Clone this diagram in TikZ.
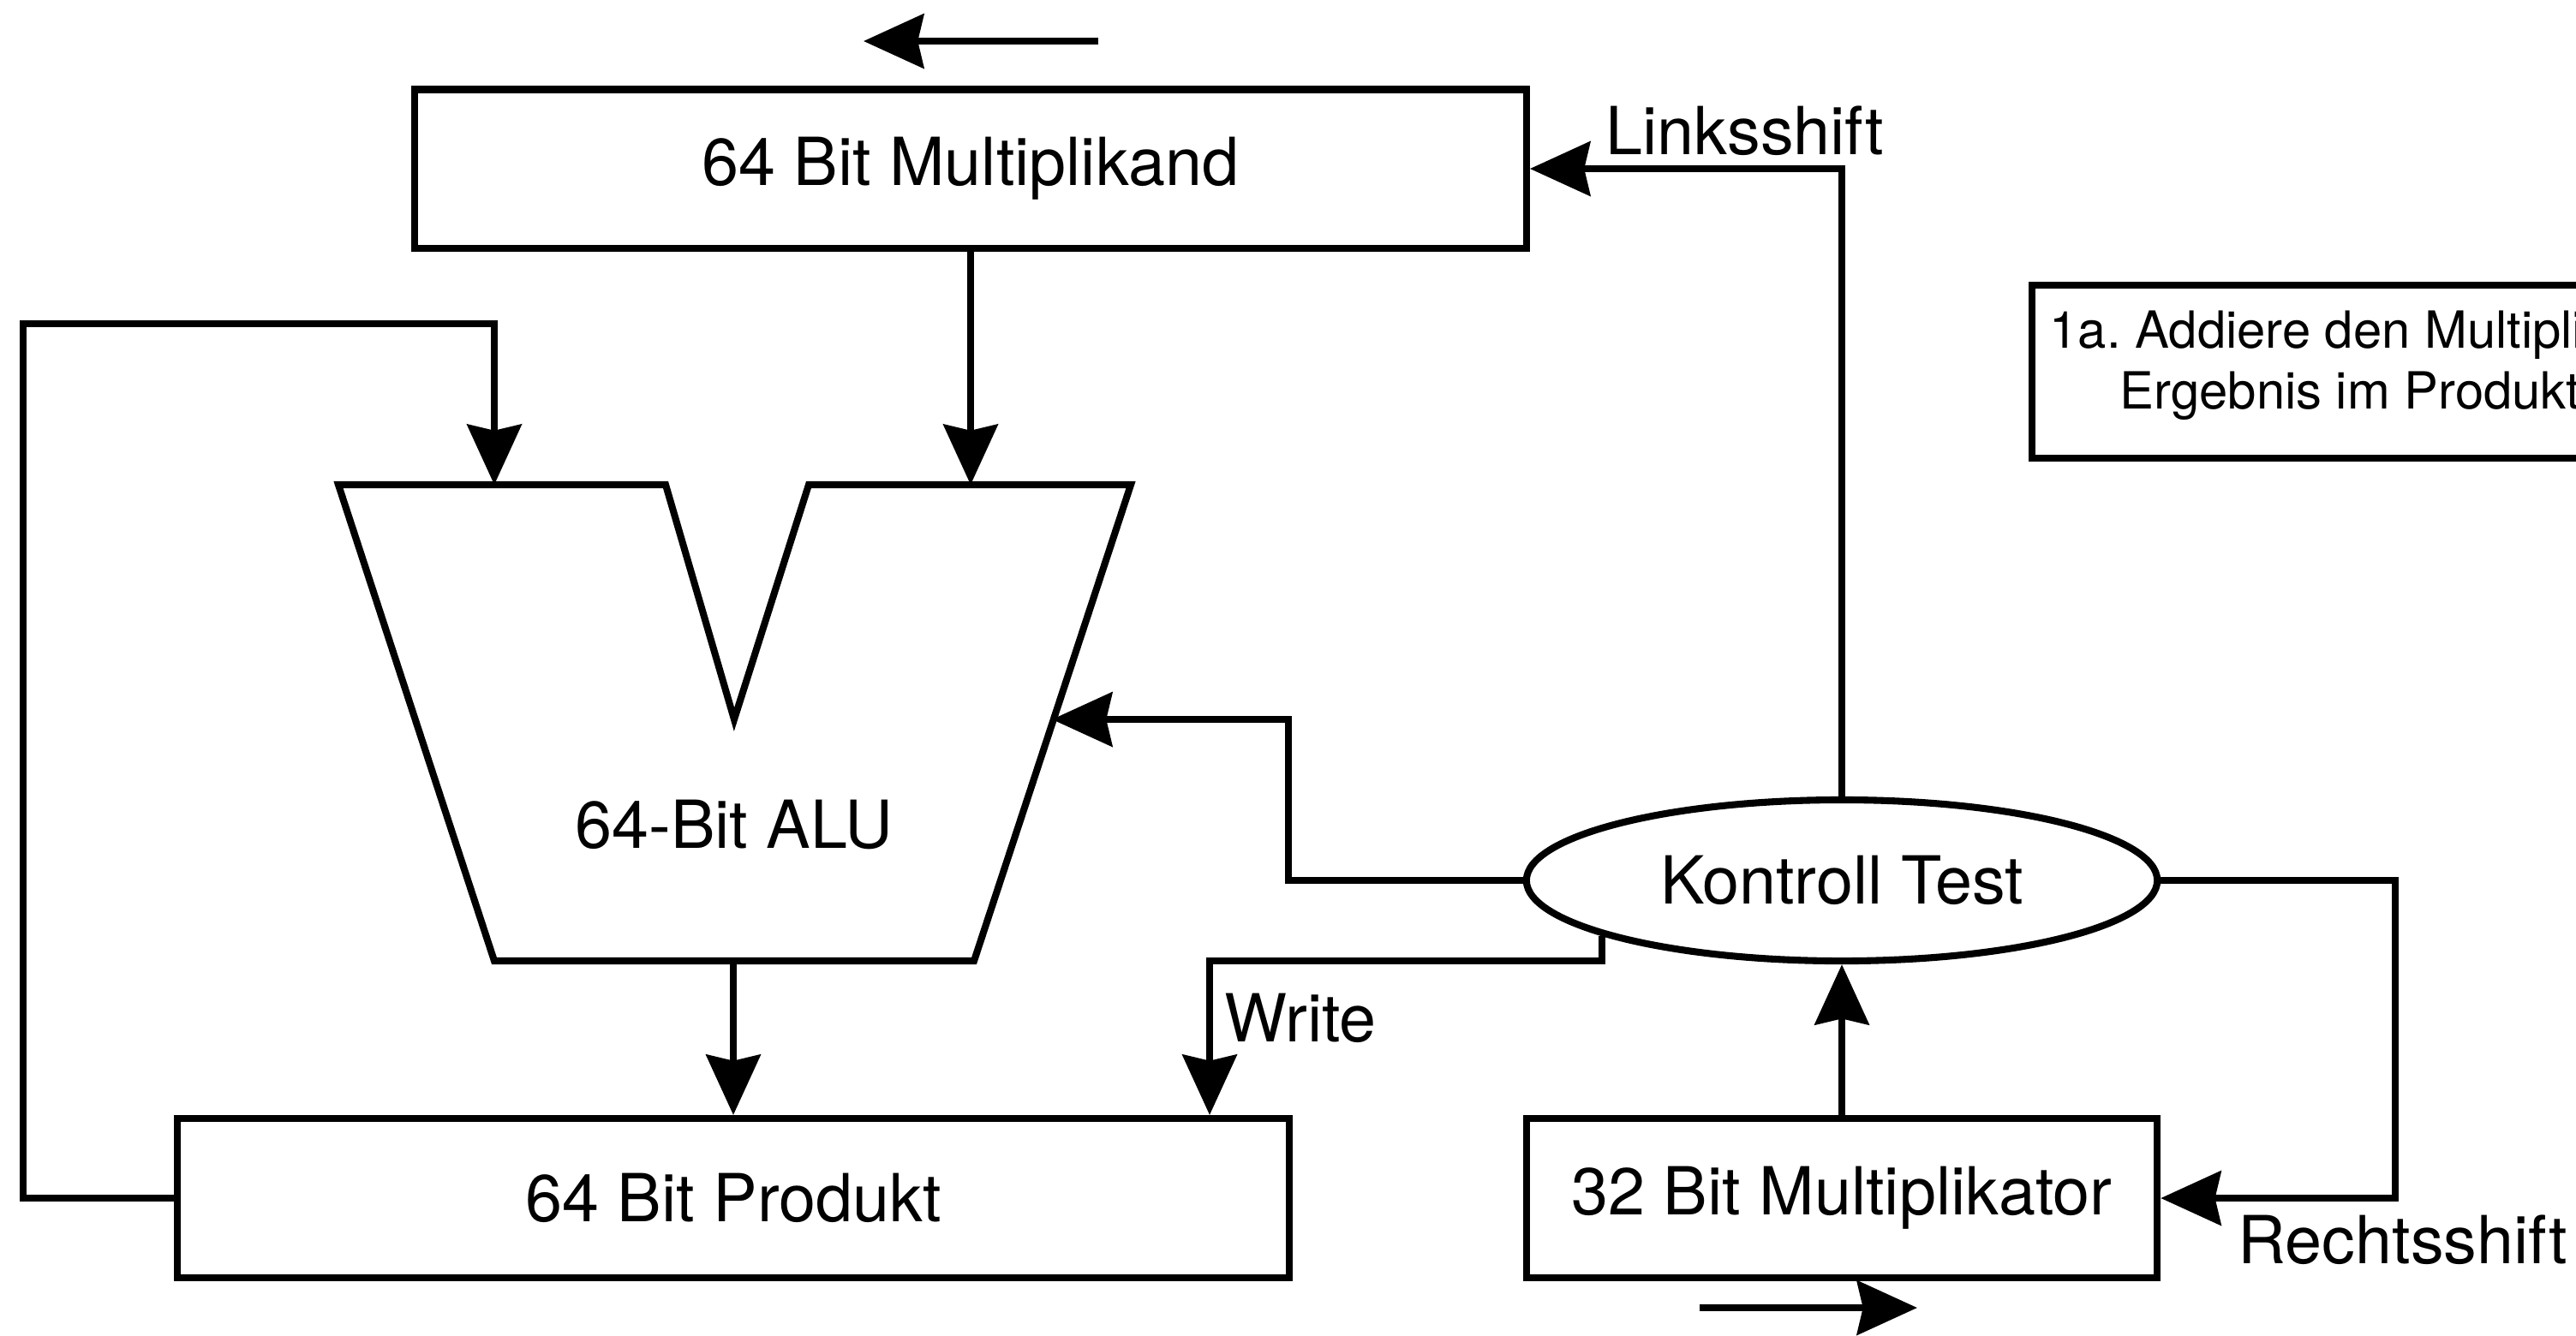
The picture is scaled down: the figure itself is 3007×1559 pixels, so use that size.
\documentclass[tikz,border=0pt]{standalone}
\usepackage{fontspec}
\setmainfont{TeX Gyre Heros}
\usetikzlibrary{arrows.meta,shapes.geometric}
\tikzset{
  reg/.style={draw, line width=2.3pt, inner sep=0pt, font=\fontsize{22}{26}\selectfont},
  lbl/.style={inner sep=0pt, font=\fontsize{22}{26}\selectfont},
  note/.style={inner sep=0pt, anchor=base west, font=\fontsize{17}{20}\selectfont},
  arr/.style={line width=2.3pt, -{Stealth[length=20pt,width=18pt,inset=2pt]}},
}
\begin{document}
\begin{tikzpicture}[x=0.01cm,y=-0.01cm]
			\clip (0,0) rectangle (3007,1559);
			% registers
			\node[reg, minimum width=12.97cm, minimum height=1.85cm] (mcand) at (1133,197) {64 Bit Multiplikand};
			\node[reg, minimum width=12.97cm, minimum height=1.86cm] (prod) at (856,1399) {64 Bit Produkt};
			\node[reg, minimum width=7.36cm, minimum height=1.86cm] (mplier) at (2150,1399) {32 Bit Multiplikator};
			\node[reg, ellipse, minimum width=7.36cm, minimum height=1.88cm] (kt) at (2150,1028) {Kontroll Test};
			% ALU
			\draw[line width=2.3pt] (395,566) -- (777,566) -- (857,840) -- (944,566) -- (1320,566) -- (1137,1122) -- (577,1122) -- cycle;
			\node[lbl] (alu) at (857,963) {64-Bit ALU};
			\coordinate (alua) at (577,566);
			\coordinate (alub) at (1133,566);
			\coordinate (aluo) at (856,1122);
			\coordinate (aluc) at (1228,840);
			% step box
			\draw[line width=2.4pt] (2372,333) rectangle (3100,535);
			\node[note] (s1a) at (2392,406) {1a.\ Addiere den Multiplik};
			\node[note] (s1b) at (2474,477) {Ergebnis im Produkt};
			% labels
			\node[lbl, anchor=west] (ls) at (1874,153) {Linksshift};
			\node[lbl, anchor=west] (rs) at (2612,1448) {Rechtsshift};
			\node[lbl, anchor=west] (wrt) at (1429,1189) {Write};
			% data paths
			\draw[arr] (mcand.south) -- (alub);
			\draw[arr] (aluo) -- (prod.north);
			\coordinate (fb) at (27,378);
			\draw[arr] (prod.west) -| (fb) -| (alua);
			% control paths
			\coordinate (kc) at (1504,840);
			\draw[arr] (kt.west) -| (kc) -- (aluc);
			\coordinate (wr) at (1412,1122);
			\draw[arr] (kt.193) |- (wr) -- (wr |- prod.north);
			\draw[arr] (kt.north) |- (mcand.east);
			\coordinate (rsc) at (2796,1028);
			\draw[arr] (kt.east) -- (rsc) |- (mplier.east);
			\draw[arr] (mplier.north) -- (kt.south);
			% shift directions
			\coordinate (lsa) at (1282,48);
			\coordinate (lsb) at (1008,48);
			\draw[arr] (lsa) -- (lsb);
			\coordinate (rsa) at (1984,1527);
			\coordinate (rsb) at (2238,1527);
			\draw[arr] (rsa) -- (rsb);
		\end{tikzpicture}
\end{document}
